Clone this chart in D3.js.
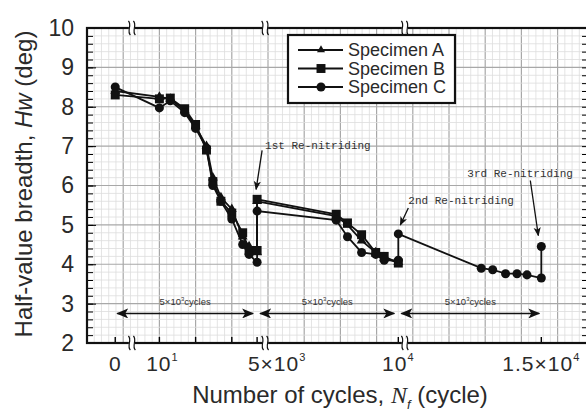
<!DOCTYPE html>
<html>
<head>
<meta charset="utf-8">
<script src="https://cdn.jsdelivr.net/npm/d3@7"></script>
<style>
  body { margin: 0; background: #fff; }
  svg { display: block; }
</style>
</head>
<body>
<svg id="chart" width="586" height="412"></svg>
<script>
// Half-value breadth Hw (deg) against number of cycles.
// A repeated cycle count is the re-nitriding jump at that point.
const cyclesA = [0, 10, 20, 50, 100, 200, 300, 500, 1000, 2000, 3000, 5000,
                 5000, 7800, 8200, 8700, 9200, 9500, 10000];
const hwA     = [8.4, 8.25, 8.2, 7.9, 7.5, 7.0, 6.2, 5.7, 5.4, 4.7, 4.45, 4.3,
                 5.6, 5.22, 5.0, 4.6, 4.3, 4.15, 4.05];

const cyclesB = [0, 10, 20, 50, 100, 200, 300, 500, 1000, 2000, 3000, 5000,
                 5000, 7800, 8200, 8700, 9200, 9500, 10000];
const hwB     = [8.3, 8.2, 8.22, 7.95, 7.55, 6.9, 6.1, 5.6, 5.3, 4.8, 4.35, 4.35,
                 5.65, 5.27, 5.05, 4.75, 4.3, 4.2, 4.03];

const cyclesC = [0, 10, 20, 50, 100, 200, 300, 500, 1000, 2000, 3000, 5000,
                 5000, 7800, 8200, 8700, 9200, 9500, 10000,
                 10000, 12900, 13300, 13750, 14150, 14500, 15000, 15000];
const hwC     = [8.5, 7.97, 8.15, 7.85, 7.45, 6.95, 6.0, 5.6, 5.15, 4.5, 4.25, 4.05,
                 5.35, 5.12, 4.7, 4.3, 4.25, 4.1, 4.1,
                 4.77, 3.9, 3.86, 3.76, 3.76, 3.73, 3.65, 4.45];

const specimenNames = ['Specimen A', 'Specimen B', 'Specimen C'];

const yTickValues = [2, 3, 4, 5, 6, 7, 8, 9, 10];
const xTickCycles = [0, 10, 100, 1000, 5000, 10000, 15000];
const xLabelCycles = [0, 10, 5000, 10000, 15000];
const xLabelBase = ['0', '10', '5×10', '10', '1.5×10'];
const xLabelSup = ['', '1', '3', '4', '4'];

const spanStart = [0, 5000, 10000];
const spanEnd = [5000, 10000, 15000];
const spanLabel = '5×10';

const reNames = ['1st Re-nitriding', '2nd Re-nitriding', '3rd Re-nitriding'];

const svg = d3.select('#chart');
const frame = { left: 87, top: 28, right: 588, bottom: 343 };

const y = d3.scaleLinear().domain([2, 10]).range([frame.bottom, frame.top]);

// graph paper units: one major square = one decade in the first block
const paper = d3.scaleLinear().domain([0, 1]).range([frame.left, frame.left + 36.2]);
const xLog = d3.scaleLog().domain([10, 5000]).range([paper(2), paper(2 + Math.log10(500))]);
const xLin = d3.scaleLinear().domain([5000, 10000, 15000])
    .range([xLog(5000), paper(8.6), paper(12.55)]);
const x = n => n === 0 ? paper(0.78) : (n <= 5000 ? xLog(n) : xLin(n));

// background graph paper
const grid = svg.append('g');
const pMax = paper.invert(frame.right);
d3.range(0, Math.floor(pMax * 5) + 1).forEach(i => {
  const major = i % 5 === 0;
  grid.append('line')
      .attr('x1', paper(i / 5)).attr('x2', paper(i / 5))
      .attr('y1', frame.top).attr('y2', frame.bottom)
      .attr('stroke', major ? '#a8a8a8' : '#dddddd')
      .attr('stroke-width', major ? 1.2 : 0.8);
});
d3.range(0, 41).forEach(i => {
  const v = 2 + i / 5;
  const major = i % 5 === 0;
  grid.append('line')
      .attr('x1', frame.left).attr('x2', frame.right)
      .attr('y1', y(v)).attr('y2', y(v))
      .attr('stroke', major ? '#a8a8a8' : '#dddddd')
      .attr('stroke-width', major ? 1.2 : 0.8);
});

// y axis: minor and major ticks pointing inward
svg.append('g')
    .attr('transform', `translate(${frame.left},0)`)
    .call(d3.axisLeft(y).tickValues(d3.range(2, 10.01, 0.2)).tickSize(-6).tickFormat(''))
    .call(g => g.select('.domain').remove());
svg.append('g')
    .attr('transform', `translate(${frame.left},0)`)
    .call(d3.axisLeft(y).tickValues(yTickValues).tickSize(-9).tickPadding(13).tickFormat(d3.format('d')))
    .call(g => g.select('.domain').remove())
    .call(g => g.selectAll('text')
        .style('font-family', 'Liberation Sans, Arial, sans-serif')
        .style('font-size', '23px')
        .attr('fill', '#2a2a2a'));
// right side ticks
svg.append('g')
    .attr('transform', `translate(${frame.right},0)`)
    .call(d3.axisRight(y).tickValues(d3.range(2, 10.01, 0.2)).tickSize(-6).tickFormat(''))
    .call(g => g.select('.domain').remove());

// x axis ticks pointing up
svg.append('g').selectAll('line')
    .data(xTickCycles)
    .enter()
    .append('line')
    .attr('x1', d => x(d)).attr('x2', d => x(d))
    .attr('y1', frame.bottom).attr('y2', frame.bottom - 6)
    .attr('stroke', '#000').attr('stroke-width', 1.4);

// frame
svg.append('rect')
    .attr('x', frame.left).attr('y', frame.top)
    .attr('width', frame.right - frame.left).attr('height', frame.bottom - frame.top)
    .attr('fill', 'none').attr('stroke', '#111').attr('stroke-width', 2.2);

// axis break marks
[1.24, 4.92, 8.78].forEach(p => {
  [frame.top, frame.bottom].forEach(by => {
    const bx = paper(p);
    svg.append('rect')
        .attr('x', bx - 3).attr('y', by - 4).attr('width', 6).attr('height', 8)
        .attr('fill', '#fff');
    [-2.5, 2.5].forEach(dx => {
      svg.append('path')
          .attr('d', `M${bx + dx - 1},${by - 7} C${bx + dx + 3},${by - 3} ${bx + dx - 3},${by + 3} ${bx + dx + 1},${by + 7}`)
          .attr('fill', 'none').attr('stroke', '#111').attr('stroke-width', 1.2);
    });
  });
});

// x tick labels
const xl = svg.append('g').selectAll('text')
    .data(xLabelCycles)
    .enter()
    .append('text')
    .attr('x', d => x(d))
    .attr('dx', d => d === 5000 ? 20 : (d === 10 ? 3 : 0))
    .attr('y', 371)
    .attr('text-anchor', 'middle')
    .style('font-family', 'Liberation Sans, Arial, sans-serif')
    .style('font-size', '21px')
    .style('letter-spacing', '1px')
    .attr('fill', '#2a2a2a');
xl.append('tspan').text((d, i) => xLabelBase[i]);
xl.append('tspan')
    .attr('dy', -10)
    .style('font-size', '11px')
    .text((d, i) => xLabelSup[i]);

// axis titles
const xt = svg.append('text')
    .attr('x', 340).attr('y', 403)
    .attr('text-anchor', 'middle')
    .style('font-family', 'Liberation Sans, Arial, sans-serif')
    .style('font-size', '24px')
    .attr('fill', '#2a2a2a');
xt.append('tspan').text('Number of cycles, ');
xt.append('tspan').style('font-style', 'italic').style('font-family', 'Liberation Serif, serif').text('N');
xt.append('tspan').attr('dy', 6).style('font-size', '13px').style('font-style', 'italic').text('f');
xt.append('tspan').attr('dy', -6).text(' (cycle)');

const yt = svg.append('text')
    .attr('transform', 'translate(32,184) rotate(-90)')
    .attr('text-anchor', 'middle')
    .style('font-family', 'Liberation Sans, Arial, sans-serif')
    .style('font-size', '24px')
    .attr('fill', '#2a2a2a');
yt.append('tspan').text('Half-value breadth, ');
yt.append('tspan').style('font-style', 'italic').text('Hw');
yt.append('tspan').text(' (deg)');

// arrow markers
const defs = svg.append('defs');
defs.append('marker')
    .attr('id', 'head').attr('viewBox', '0 0 12 10')
    .attr('refX', 11).attr('refY', 5)
    .attr('markerWidth', 12).attr('markerHeight', 10)
    .attr('markerUnits', 'userSpaceOnUse')
    .attr('orient', 'auto-start-reverse')
    .append('path').attr('d', 'M0,0 L12,5 L0,10 L3,5 Z').attr('fill', '#111');
defs.append('marker')
    .attr('id', 'head2').attr('viewBox', '0 0 10 8')
    .attr('refX', 9).attr('refY', 4)
    .attr('markerWidth', 9).attr('markerHeight', 8)
    .attr('markerUnits', 'userSpaceOnUse')
    .attr('orient', 'auto')
    .append('path').attr('d', 'M0,0 L10,4 L0,8 L2.5,4 Z').attr('fill', '#111');

// 5x10^3 cycles spans
const spans = svg.append('g');
spanStart.forEach((s, i) => {
  const x1 = x(s) + (i === 0 ? 2 : 3);
  const x2 = x(spanEnd[i]) - (i === 2 ? 2 : 4);
  spans.append('line')
      .attr('x1', x1).attr('x2', x2)
      .attr('y1', y(2.75)).attr('y2', y(2.75))
      .attr('stroke', '#111').attr('stroke-width', 1.4)
      .attr('marker-start', 'url(#head)').attr('marker-end', 'url(#head)');
  const t = spans.append('text')
      .attr('x', (x1 + x2) / 2).attr('y', y(2.75) - 8)
      .attr('text-anchor', 'middle')
      .style('font-family', 'Liberation Sans, Arial, sans-serif')
      .style('font-size', '9.5px')
      .attr('fill', '#333');
  t.append('tspan').text(spanLabel);
  t.append('tspan').attr('dy', -4).style('font-size', '6px').text('3');
  t.append('tspan').attr('dy', 4).text('cycles');
});

// data
const series = [
  { cycles: cyclesA, hw: hwA, symbol: d3.symbolTriangle, size: 42 },
  { cycles: cyclesB, hw: hwB, symbol: d3.symbolSquare, size: 80 },
  { cycles: cyclesC, hw: hwC, symbol: d3.symbolCircle, size: 64 }
];
const line = d3.line().x(d => x(d[0])).y(d => y(d[1]));
series.forEach(s => {
  const pts = s.cycles.map((c, i) => [c, s.hw[i]]);
  svg.append('path')
      .datum(pts)
      .attr('d', line)
      .attr('fill', 'none').attr('stroke', '#111').attr('stroke-width', 1.8);
});
series.forEach(s => {
  const pts = s.cycles.map((c, i) => [c, s.hw[i]]);
  svg.append('g').selectAll('path')
      .data(pts)
      .enter()
      .append('path')
      .attr('transform', d => `translate(${x(d[0])},${y(d[1])})`)
      .attr('d', d3.symbol().type(s.symbol).size(s.size))
      .attr('fill', '#111');
});

// re-nitriding annotations
const reTargets = [[5000, 5.65], [10000, 4.77], [15000, 4.45]];
const reText = [[8, -53], [10, -33], [-74, -73]];
const reTail = [[5, -49], [10, -26], [-11, -66]];
const reTip = [[-1, -10], [2, -9], [-3, -11]];
reTargets.forEach((t, i) => {
  const px = x(t[0]), py = y(t[1]);
  svg.append('line')
      .attr('x1', px + reTail[i][0]).attr('y1', py + reTail[i][1])
      .attr('x2', px + reTip[i][0]).attr('y2', py + reTip[i][1])
      .attr('stroke', '#111').attr('stroke-width', 1.3)
      .attr('marker-end', 'url(#head2)');
  svg.append('text')
      .attr('x', px + reText[i][0]).attr('y', py + reText[i][1])
      .attr('dominant-baseline', 'central')
      .style('font-family', 'Liberation Mono, DejaVu Sans Mono, monospace')
      .style('font-size', '11px')
      .attr('fill', '#333')
      .text(reNames[i]);
});

// legend
const lg = svg.append('g');
lg.append('rect')
    .attr('x', 288).attr('y', 35).attr('width', 167).attr('height', 68)
    .attr('fill', '#fff').attr('stroke', '#111').attr('stroke-width', 2.2);
series.forEach((s, i) => {
  const ly = 50 + i * 18.5;
  lg.append('line')
      .attr('x1', 298).attr('x2', 343).attr('y1', ly).attr('y2', ly)
      .attr('stroke', '#111').attr('stroke-width', 1.8);
  lg.append('path')
      .attr('transform', `translate(321,${ly})`)
      .attr('d', d3.symbol().type(s.symbol).size(i === 0 ? 28 : s.size))
      .attr('fill', '#111');
  lg.append('text')
      .attr('x', 348).attr('y', ly)
      .attr('dominant-baseline', 'central')
      .style('font-family', 'Liberation Sans, Arial, sans-serif')
      .style('font-size', '18px')
      .attr('fill', '#2a2a2a')
      .text(specimenNames[i]);
});
</script>
</body>
</html>
